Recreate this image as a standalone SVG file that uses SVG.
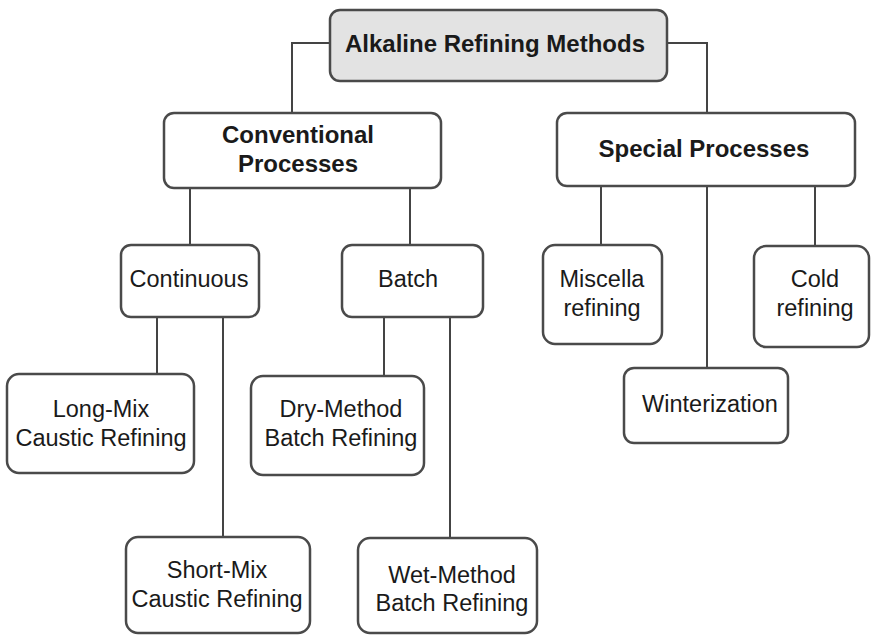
<svg xmlns="http://www.w3.org/2000/svg" width="871" height="636" viewBox="0 0 871 636">
  <style>
    .box { fill: #ffffff; stroke: #4a4a4a; stroke-width: 2.5; }
    .root { fill: #e3e3e3; }
    .lbl { font-family: "Liberation Sans", Arial, sans-serif; font-size: 23.5px; fill: #1a1a1a; text-anchor: middle; }
    .bold { font-weight: bold; font-size: 24px; }
    .wire { fill: none; stroke: #444444; stroke-width: 2; }
  </style>
  <rect width="871" height="636" fill="#ffffff"/>

  <!-- connectors -->
  <g id="connectors" class="wire">
    <polyline points="330,43 292,43 292,113"/>
    <polyline points="667,43 707,43 707,113"/>
    <line x1="190" y1="188" x2="190" y2="245"/>
    <line x1="410" y1="188" x2="410" y2="245"/>
    <line x1="157" y1="317" x2="157" y2="374"/>
    <line x1="223" y1="317" x2="223" y2="537"/>
    <line x1="384" y1="317" x2="384" y2="376"/>
    <line x1="450" y1="317" x2="450" y2="538"/>
    <line x1="601" y1="186" x2="601" y2="245"/>
    <line x1="707" y1="186" x2="707" y2="368"/>
    <line x1="815" y1="186" x2="815" y2="245"/>
  </g>

  <g id="alkaline-refining-methods">
    <rect class="box root" x="330" y="10" width="337" height="71" rx="10"/>
    <text class="lbl bold" x="495" y="52">Alkaline Refining Methods</text>
  </g>

  <g id="conventional-processes">
    <rect class="box" x="164" y="113" width="277" height="75" rx="10"/>
    <text class="lbl bold" x="298" y="143">Conventional</text>
    <text class="lbl bold" x="298" y="172">Processes</text>
  </g>

  <g id="special-processes">
    <rect class="box" x="557" y="113" width="298" height="73" rx="10"/>
    <text class="lbl bold" x="704" y="157">Special Processes</text>
  </g>

  <g id="continuous">
    <rect class="box" x="121" y="245" width="138" height="72" rx="10"/>
    <text class="lbl" x="189" y="287">Continuous</text>
  </g>

  <g id="batch">
    <rect class="box" x="342" y="245" width="141" height="72" rx="10"/>
    <text class="lbl" x="408" y="287">Batch</text>
  </g>

  <g id="long-mix">
    <rect class="box" x="7" y="374" width="187" height="99" rx="12"/>
    <text class="lbl" x="101" y="417">Long-Mix</text>
    <text class="lbl" x="101" y="446">Caustic Refining</text>
  </g>

  <g id="dry-method">
    <rect class="box" x="251" y="376" width="173" height="99" rx="12"/>
    <text class="lbl" x="341" y="417">Dry-Method</text>
    <text class="lbl" x="341" y="446">Batch Refining</text>
  </g>

  <g id="short-mix">
    <rect class="box" x="126" y="537" width="184" height="96" rx="12"/>
    <text class="lbl" x="217" y="578">Short-Mix</text>
    <text class="lbl" x="217" y="607">Caustic Refining</text>
  </g>

  <g id="wet-method">
    <rect class="box" x="358" y="538" width="179" height="95" rx="12"/>
    <text class="lbl" x="452" y="583">Wet-Method</text>
    <text class="lbl" x="452" y="611">Batch Refining</text>
  </g>

  <g id="miscella-refining">
    <rect class="box" x="543" y="245" width="119" height="99" rx="12"/>
    <text class="lbl" x="602" y="287">Miscella</text>
    <text class="lbl" x="602" y="316">refining</text>
  </g>

  <g id="cold-refining">
    <rect class="box" x="754" y="246" width="115" height="101" rx="12"/>
    <text class="lbl" x="815" y="287">Cold</text>
    <text class="lbl" x="815" y="316">refining</text>
  </g>

  <g id="winterization">
    <rect class="box" x="624" y="368" width="164" height="75" rx="10"/>
    <text class="lbl" x="710" y="412">Winterization</text>
  </g>
</svg>
